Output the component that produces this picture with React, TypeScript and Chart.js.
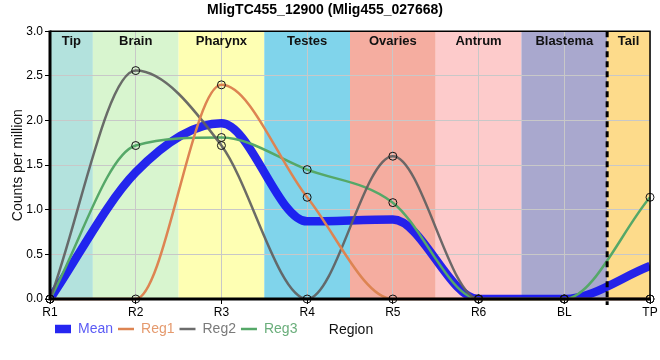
import React, { useEffect, useRef } from 'react';
import { Chart, registerables } from 'chart.js';

Chart.register(...registerables);

const categories = ['R1', 'R2', 'R3', 'R4', 'R5', 'R6', 'BL', 'TP'];
const meanValues = [0, 1.42, 1.97, 0.87, 0.89, 0, 0, 0.37];
const reg1Values = [0, 0, 2.4, 1.14, 0, 0, 0, 0];
const reg2Values = [0, 2.56, 1.72, 0, 1.6, 0, 0, 0];
const reg3Values = [0, 1.72, 1.81, 1.45, 1.08, 0, 0, 1.14];
const regionNames = ['Tip', 'Brain', 'Pharynx', 'Testes', 'Ovaries', 'Antrum', 'Blastema', 'Tail'];

const regionColors = ['#b3e2dd', '#d8f5cf', '#feffb3', '#80d4eb', '#f5ada0', '#fdcbcb', '#a9a8ce', '#fddb8b'];
const seriesColors = ['rgba(20,20,240,0.92)', '#dd8452', 'rgba(95,95,95,0.92)', '#55a868'];
const legendTextColors = ['#5b5bf5', '#e59a6e', '#7a7a7a', '#6aae7b'];
const FONT = "'Liberation Sans', Arial, sans-serif";

const bandsPlugin = {
  id: 'bands',
  beforeDraw(chart: any) {
    const { ctx, chartArea } = chart;
    const x = chart.scales.x;
    const n = categories.length;
    ctx.save();
    for (let i = 0; i < n; i++) {
      const c = x.getPixelForValue(i);
      const l = i === 0 ? chartArea.left : (c + x.getPixelForValue(i - 1)) / 2;
      const r = i === n - 1 ? chartArea.right : (c + x.getPixelForValue(i + 1)) / 2;
      ctx.fillStyle = regionColors[i];
      ctx.fillRect(l, chartArea.top, r - l, chartArea.bottom - chartArea.top);
    }
    ctx.restore();
  },
  beforeDatasetsDraw(chart: any) {
    const { ctx, chartArea } = chart;
    const x = chart.scales.x;
    const n = categories.length;
    ctx.save();
    ctx.font = `bold 13px ${FONT}`;
    ctx.fillStyle = '#111';
    ctx.textAlign = 'center';
    ctx.textBaseline = 'middle';
    for (let i = 0; i < n; i++) {
      const c = x.getPixelForValue(i);
      const l = i === 0 ? chartArea.left : (c + x.getPixelForValue(i - 1)) / 2;
      const r = i === n - 1 ? chartArea.right : (c + x.getPixelForValue(i + 1)) / 2;
      ctx.fillText(regionNames[i], (l + r) / 2, chartArea.top + 10);
    }
    ctx.restore();
  },
  afterDatasetsDraw(chart: any) {
    const { ctx, chartArea } = chart;
    const x = chart.scales.x;
    const n = categories.length;
    ctx.save();
    const dx = (x.getPixelForValue(n - 2) + x.getPixelForValue(n - 1)) / 2;
    ctx.strokeStyle = '#000';
    ctx.lineWidth = 3;
    ctx.setLineDash([6, 4]);
    ctx.beginPath();
    ctx.moveTo(dx, chartArea.top);
    ctx.lineTo(dx, chartArea.bottom + 6);
    ctx.stroke();
    ctx.setLineDash([]);
    ctx.lineWidth = 1.5;
    ctx.beginPath();
    ctx.moveTo(chartArea.left, chartArea.top);
    ctx.lineTo(chartArea.right, chartArea.top);
    ctx.lineTo(chartArea.right, chartArea.bottom);
    ctx.stroke();
    ctx.lineWidth = 3;
    ctx.beginPath();
    ctx.moveTo(chartArea.left, chartArea.top - 0.75);
    ctx.lineTo(chartArea.left, chartArea.bottom);
    ctx.lineTo(chartArea.right + 0.75, chartArea.bottom);
    ctx.stroke();
    ctx.restore();
  },
  afterDraw(chart: any) {
    const { ctx, chartArea } = chart;
    ctx.save();
    ctx.font = `14px ${FONT}`;
    ctx.fillStyle = '#111';
    ctx.textAlign = 'center';
    ctx.textBaseline = 'middle';
    ctx.fillText('Region', (chartArea.left + chartArea.right) / 2 + 1, 330);
    ctx.restore();
  },
};

export default function App() {
  const canvasRef = useRef<HTMLCanvasElement | null>(null);

  useEffect(() => {
    if (!canvasRef.current) return;
    const regStyle = (i: number) => ({
      borderColor: seriesColors[i],
      backgroundColor: seriesColors[i],
      borderWidth: 2.5,
      pointRadius: 4,
      pointBorderColor: '#111',
      pointBorderWidth: 1,
      pointBackgroundColor: 'rgba(0,0,0,0)',
      cubicInterpolationMode: 'monotone' as const,
      clip: 6,
      order: 0,
    });
    const chart = new Chart(canvasRef.current, {
      type: 'line',
      data: {
        labels: categories,
        datasets: [
          {
            label: 'Mean',
            data: meanValues,
            borderColor: seriesColors[0],
            backgroundColor: seriesColors[0],
            borderWidth: 8.5,
            pointRadius: 0,
            cubicInterpolationMode: 'monotone',
            clip: 0,
            order: 5,
          },
          { label: 'Reg1', data: reg1Values, ...regStyle(1) },
          { label: 'Reg2', data: reg2Values, ...regStyle(2) },
          { label: 'Reg3', data: reg3Values, ...regStyle(3) },
        ],
      },
      options: {
        responsive: false,
        animation: false,
        devicePixelRatio: 1,
        layout: { padding: { top: 0, left: 0, right: 10, bottom: 14 } },
        font: { family: FONT },
        plugins: {
          title: {
            display: true,
            text: 'MligTC455_12900 (Mlig455_027668)',
            color: '#000',
            font: { family: FONT, size: 14, weight: 'bold' },
            padding: { top: 2, bottom: 12.5 },
          },
          legend: {
            position: 'bottom',
            align: 'start',
            fullSize: false,
            labels: {
              usePointStyle: true,
              pointStyleWidth: 16,
              padding: 5,
              font: { family: FONT, size: 14 },
              generateLabels: (c: any) =>
                c.data.datasets.map((ds: any, i: number) => ({
                  text: ds.label,
                  fillStyle: ds.borderColor,
                  strokeStyle: ds.borderColor,
                  lineWidth: ds.borderWidth,
                  lineCap: 'butt',
                  pointStyle: 'line',
                  fontColor: legendTextColors[i],
                  hidden: !c.isDatasetVisible(i),
                  datasetIndex: i,
                })),
            },
          },
          tooltip: { enabled: false },
        },
        scales: {
          x: {
            type: 'category',
            offset: false,
            border: { display: false },
            grid: { color: '#c8c8c8', lineWidth: 1, tickColor: '#000', tickLength: 5 },
            ticks: { color: '#000', font: { family: FONT, size: 12 }, padding: 1, maxRotation: 0 },
            afterFit: (s: any) => {
              s.height = 18;
            },
          },
          y: {
            min: 0,
            max: 3,
            border: { display: false },
            grid: { color: '#c8c8c8', lineWidth: 1, tickColor: '#000', tickLength: 5 },
            ticks: {
              stepSize: 0.5,
              color: '#000',
              padding: 2,
              font: { family: FONT, size: 12 },
              callback: (v: any) => Number(v).toFixed(1),
            },
            title: {
              display: true,
              text: 'Counts per million',
              color: '#111',
              font: { family: FONT, size: 14 },
              padding: { top: 10, bottom: 0 },
            },
            afterFit: (s: any) => {
              s.width = 50;
            },
          },
        },
      },
      plugins: [bandsPlugin],
    });
    return () => chart.destroy();
  }, []);

  return (
    <div style={{ position: 'absolute', left: 0, top: 0, width: 660, height: 360, background: '#fff' }}>
      <canvas ref={canvasRef} width={660} height={360} />
    </div>
  );
}
